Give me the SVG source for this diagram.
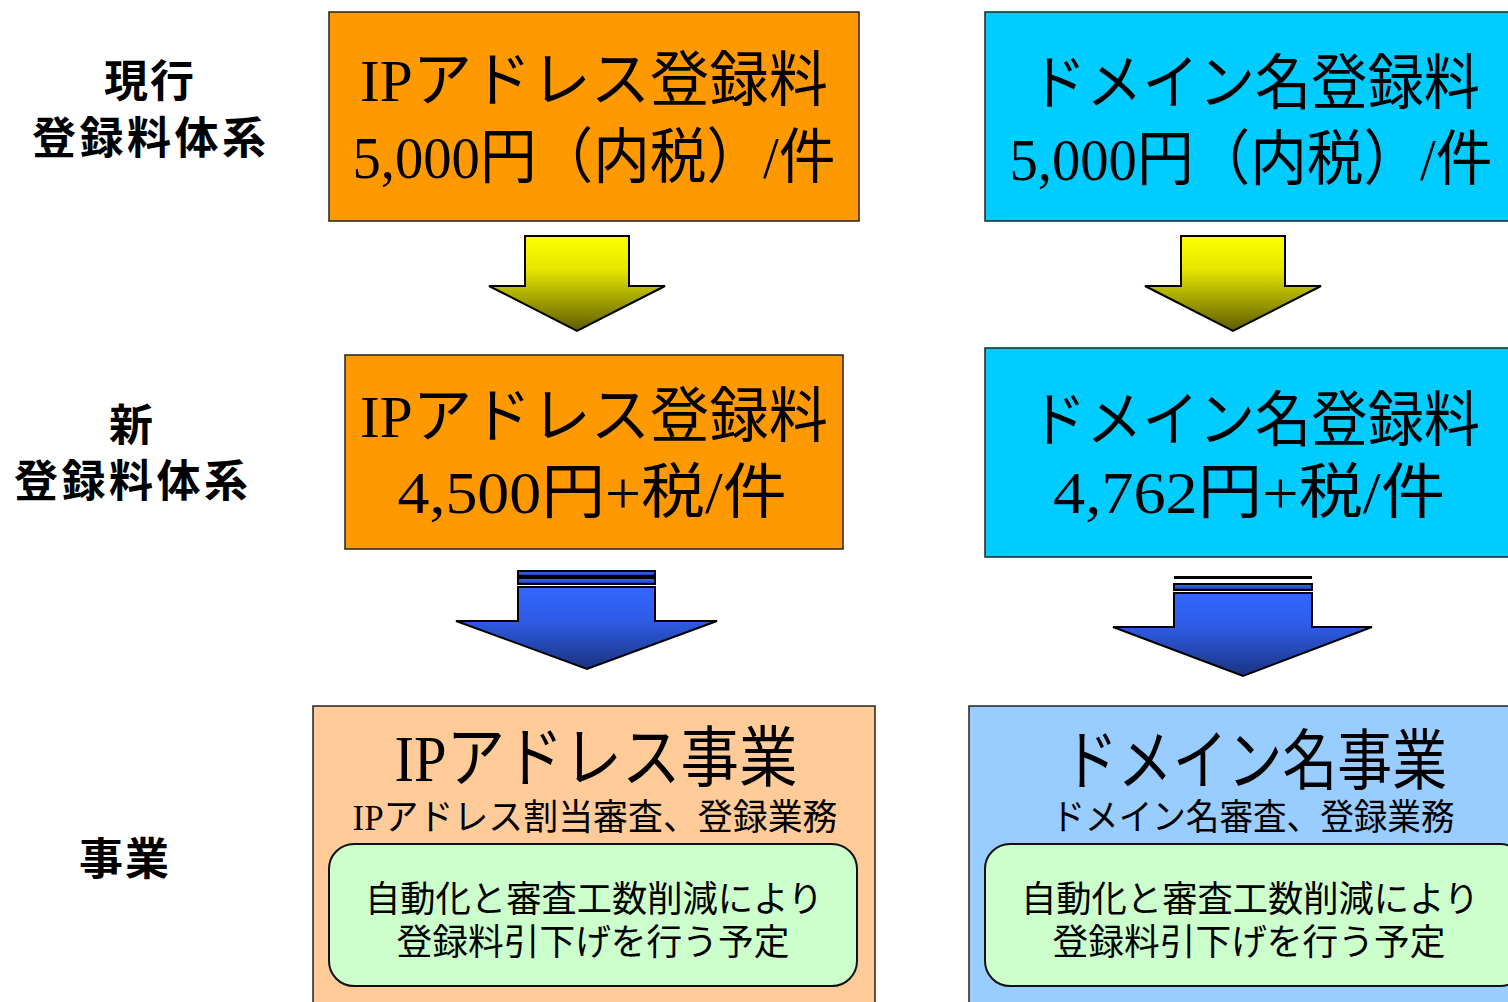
<svg xmlns="http://www.w3.org/2000/svg" width="1508" height="1002" viewBox="0 0 1508 1002">
<defs>
<linearGradient id="gy" x1="0" y1="0" x2="0" y2="1"><stop offset="0" stop-color="#FFFF00"/><stop offset="0.35" stop-color="#E6E600"/><stop offset="1" stop-color="#5C5C00"/></linearGradient>
<linearGradient id="gb" x1="0" y1="0" x2="0" y2="1"><stop offset="0" stop-color="#3366FF"/><stop offset="0.4" stop-color="#2E5CE6"/><stop offset="1" stop-color="#1A3380"/></linearGradient>
<style>
.box{stroke:#222;stroke-width:1.5}
.or{fill:#FF9900}.cy{fill:#00CCFF}.pe{fill:#FFCC99}.lb{fill:#99CCFF}
.gr{fill:#CCFFCC;stroke:#111;stroke-width:2}
.ay{fill:url(#gy);stroke:#000;stroke-width:2;stroke-linejoin:miter}
.ab{fill:url(#gb);stroke:#000;stroke-width:2}
.t{font-family:"Liberation Serif","Noto Sans CJK JP",serif;fill:#000;text-anchor:middle}
.big{font-size:60px}
.ttl{font-size:66px}
.sub{font-size:36px}
.lab{font-family:"Noto Sans CJK JP","Noto Sans CJK SC",sans-serif;font-weight:bold;font-size:44px;fill:#000}
</style>
</defs>
<g id="labels">
<text class="lab" x="104" y="97" textLength="90" lengthAdjust="spacing">現行</text>
<text class="lab" x="32" y="154" textLength="234" lengthAdjust="spacing">登録料体系</text>
<text class="lab" x="109" y="441">新</text>
<text class="lab" x="14" y="497" textLength="234" lengthAdjust="spacing">登録料体系</text>
<text class="lab" x="79" y="875" textLength="90" lengthAdjust="spacing">事業</text>
</g>
<g id="connectors">
<path class="ay" d="M525,236 H629 V286 H665 L577,331 L489,286 H525 Z"/>
<path class="ay" d="M1181,236 H1285 V286 H1321 L1233,331 L1145,286 H1181 Z"/>
<rect class="ab" x="518" y="571" width="137" height="5"/>
<rect class="ab" x="518" y="578" width="137" height="6"/>
<path class="ab" d="M518,587 H655 V621 H717 L587,669 L456,621 H518 Z"/>
<rect x="1174" y="576" width="138" height="3" fill="#000"/>
<rect class="ab" x="1174" y="584" width="138" height="6"/>
<path class="ab" d="M1174,593 H1312 V627 H1372 L1243,676 L1113,627 H1174 Z"/>
</g>
<g id="ip-current">
<rect class="box or" x="329" y="12" width="530" height="209"/>
<text class="t big" x="594" y="101" textLength="468" lengthAdjust="spacingAndGlyphs">IPアドレス登録料</text>
<text class="t big" x="594" y="178" textLength="483" lengthAdjust="spacingAndGlyphs">5,000円（内税）/件</text>
</g>
<g id="dom-current">
<rect class="box cy" x="985" y="12" width="540" height="209"/>
<text class="t big" x="1255" y="104" textLength="450" lengthAdjust="spacingAndGlyphs">ドメイン名登録料</text>
<text class="t big" x="1251" y="180" textLength="483" lengthAdjust="spacingAndGlyphs">5,000円（内税）/件</text>
</g>
<g id="ip-new">
<rect class="box or" x="345" y="355" width="498" height="194"/>
<text class="t big" x="594" y="437" textLength="468" lengthAdjust="spacingAndGlyphs">IPアドレス登録料</text>
<text class="t big" x="592" y="513" textLength="389" lengthAdjust="spacingAndGlyphs">4,500円+税/件</text>
</g>
<g id="dom-new">
<rect class="box cy" x="985" y="348" width="540" height="209"/>
<text class="t big" x="1255" y="441" textLength="450" lengthAdjust="spacingAndGlyphs">ドメイン名登録料</text>
<text class="t big" x="1249" y="513" textLength="392" lengthAdjust="spacingAndGlyphs">4,762円+税/件</text>
</g>
<g id="ip-business">
<rect class="box pe" x="313" y="706" width="562" height="310"/>
<text class="t ttl" x="596" y="781" textLength="403" lengthAdjust="spacingAndGlyphs">IPアドレス事業</text>
<text class="t sub" x="595" y="830" textLength="485" lengthAdjust="spacingAndGlyphs">IPアドレス割当審査、登録業務</text>
<rect class="gr" x="329" y="844" width="528" height="142" rx="25"/>
<text class="t sub" x="594" y="912" textLength="458" lengthAdjust="spacingAndGlyphs">自動化と審査工数削減により</text>
<text class="t sub" x="593" y="955" textLength="393" lengthAdjust="spacingAndGlyphs">登録料引下げを行う予定</text>
</g>
<g id="dom-business">
<rect class="box lb" x="969" y="706" width="560" height="310"/>
<text class="t ttl" x="1255" y="784" textLength="384" lengthAdjust="spacingAndGlyphs">ドメイン名事業</text>
<text class="t sub" x="1253" y="830" textLength="403" lengthAdjust="spacingAndGlyphs">ドメイン名審査、登録業務</text>
<rect class="gr" x="985" y="844" width="540" height="142" rx="25"/>
<text class="t sub" x="1250" y="912" textLength="458" lengthAdjust="spacingAndGlyphs">自動化と審査工数削減により</text>
<text class="t sub" x="1249" y="955" textLength="393" lengthAdjust="spacingAndGlyphs">登録料引下げを行う予定</text>
</g>
</svg>
